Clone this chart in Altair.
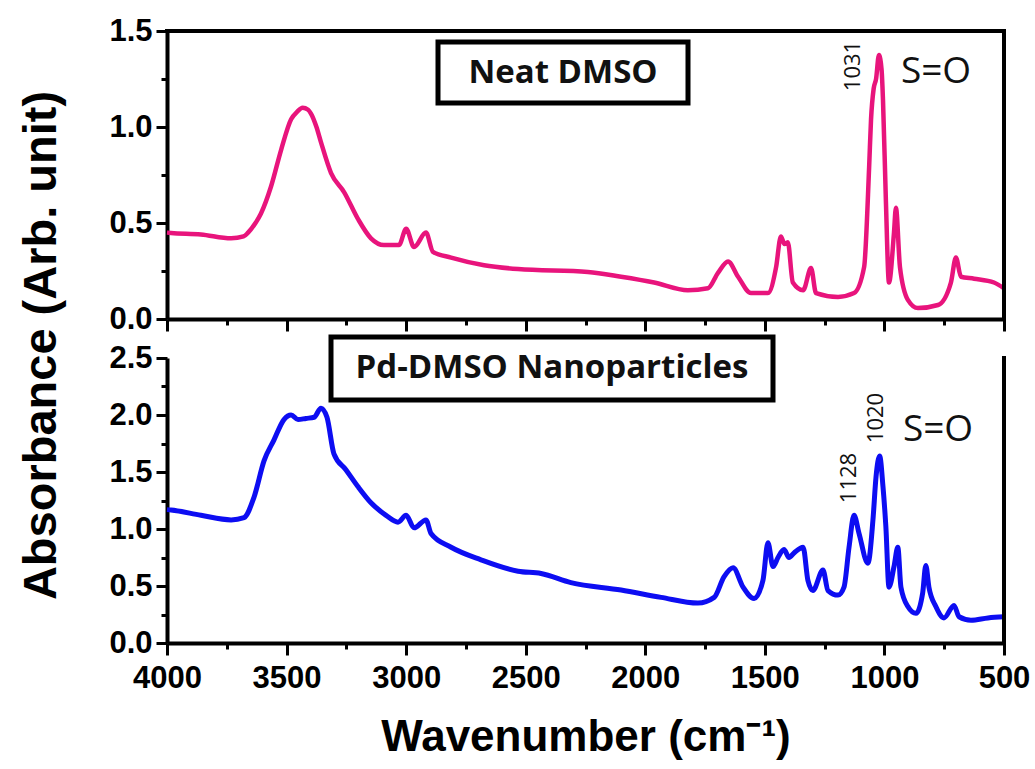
import altair as alt
import pandas as pd

# ---------------- data ----------------
neat_wn = [4000, 3983, 3858, 3732, 3680, 3661, 3630, 3607, 3565, 3523, 3481, 3455, 3433,
           3410, 3398, 3375, 3356, 3314, 3259, 3201, 3147, 3093, 3030, 3000, 2967, 2917,
           2888, 2812, 2674, 2532, 2240, 2101, 1963, 1822, 1738, 1696, 1654, 1612, 1558,
           1487, 1453, 1433, 1418, 1404, 1383, 1340, 1307, 1286, 1194, 1127, 1085, 1064,
           1056, 1045, 1035, 1023, 1012, 1006, 994, 981, 960, 952, 935, 902, 860, 776,
           722, 701, 680, 625, 542, 500]
neat_abs = [0.45, 0.448, 0.44, 0.42, 0.43, 0.45, 0.50, 0.55, 0.69, 0.88, 1.04, 1.08, 1.10,
            1.09, 1.07, 1.00, 0.92, 0.76, 0.66, 0.52, 0.42, 0.385, 0.385, 0.47, 0.375, 0.45,
            0.35, 0.32, 0.28, 0.26, 0.245, 0.22, 0.19, 0.15, 0.16, 0.24, 0.30, 0.22, 0.135,
            0.135, 0.27, 0.43, 0.39, 0.40, 0.19, 0.15, 0.265, 0.135, 0.115, 0.135, 0.27, 0.79,
            1.04, 1.20, 1.25, 1.375, 1.30, 1.14, 0.62, 0.19, 0.45, 0.58, 0.27, 0.10, 0.057, 0.073,
            0.19, 0.32, 0.22, 0.21, 0.19, 0.16]

pd_wn = [4000, 3983, 3858, 3732, 3678, 3636, 3594, 3553, 3511, 3481, 3452, 3419,
         3385, 3356, 3331, 3302, 3252, 3201, 3147, 3084, 3034, 3000, 2967, 2917,
         2896, 2812, 2687, 2532, 2436, 2311, 2101, 1934, 1780, 1712, 1671, 1633,
         1591, 1545, 1508, 1487, 1466, 1445, 1420, 1399, 1378, 1340, 1320, 1299,
         1257, 1236, 1194, 1169, 1148, 1127, 1106, 1069, 1048, 1035, 1020, 1006,
         994, 981, 960, 944, 931, 902, 868, 840, 827, 814, 785, 751, 709, 688,
         638, 567, 500]
pd_abs = [1.17, 1.167, 1.12, 1.08, 1.10, 1.28, 1.60, 1.78, 1.96, 2.00, 1.96, 1.97,
          1.98, 2.06, 1.98, 1.66, 1.52, 1.37, 1.23, 1.12, 1.06, 1.12, 1.01, 1.08,
          0.96, 0.84, 0.73, 0.63, 0.61, 0.53, 0.465, 0.40, 0.35, 0.40, 0.58, 0.66,
          0.49, 0.39, 0.55, 0.88, 0.67, 0.75, 0.82, 0.75, 0.79, 0.84, 0.55, 0.46,
          0.64, 0.46, 0.42, 0.49, 0.84, 1.12, 0.96, 0.70, 1.08, 1.46, 1.64, 1.37,
          1.02, 0.49, 0.67, 0.84, 0.49, 0.32, 0.26, 0.44, 0.68, 0.49, 0.32, 0.22,
          0.33, 0.23, 0.20, 0.22, 0.23]

x_ticks = list(range(500, 4001, 250))
y_ticks_top = [0, 0.25, 0.5, 0.75, 1.0, 1.25, 1.5]
y_ticks_bot = [0, 0.25, 0.5, 0.75, 1.0, 1.25, 1.5, 1.75, 2.0, 2.25, 2.5]

neat_df = pd.DataFrame({"wn": neat_wn, "a": neat_abs})
pd_df = pd.DataFrame({"wn": pd_wn, "a": pd_abs})
one = pd.DataFrame({"k": [0]})

W = 837
H1 = 288
H2 = 285
PINK = "#e8147c"
BLUE = "#0d0df2"
LBL_FONT = "Liberation Sans"
ANN_FONT = "Open Sans"

xscale = alt.Scale(domain=[4000, 500], nice=False, zero=False)


def x_axis(show_labels, title=None):
    kw = dict(
        values=x_ticks,
        labelExpr="datum.value % 500 === 0 ? datum.label : ''",
        format="d",
        tickSize={"condition": {"test": "datum.value % 500 === 0", "value": 12}, "value": 6},
        tickWidth=3,
        tickColor="black",
        domainColor="black",
        domainWidth=4,
        labelFont=LBL_FONT,
        labelFontSize=31,
        labelFontWeight="bold",
        labelColor="black",
        labelFlush=False,
        labelOverlap=False,
        labelPadding=8,
        grid=False,
        labels=show_labels,
    )
    if title:
        kw.update(title=title, titleFont=LBL_FONT, titleFontSize=44, titleFontWeight="bold",
                  titleColor="black", titlePadding=22)
    else:
        kw.update(title=None)
    return alt.Axis(**kw)


def y_axis(vals, title=None, extra=None):
    kw = dict(
        values=vals,
        labelExpr="datum.value % 0.5 === 0 ? datum.label : ''",
        format=".1f",
        tickSize={"condition": {"test": "datum.value % 0.5 === 0", "value": 11}, "value": 6},
        tickWidth=3,
        tickColor="black",
        domainColor="black",
        domainWidth=4,
        labelFont=LBL_FONT,
        labelFontSize=31,
        labelFontWeight="bold",
        labelColor="black",
        labelFlush=False,
        labelOverlap=False,
        labelPadding=4,
        grid=False,
    )
    if title:
        kw.update(title=title, titleFont=LBL_FONT, titleFontSize=47, titleFontWeight="bold",
                  titleColor="black")
        kw.update(extra or {})
    else:
        kw.update(title=None)
    return alt.Axis(**kw)


# ---------- top panel ----------
top_line = alt.Chart(neat_df).mark_line(color=PINK, strokeWidth=4.5, strokeJoin="round",
                                        interpolate="monotone").encode(
    x=alt.X("wn:Q", scale=xscale, axis=x_axis(False)),
    y=alt.Y("a:Q", scale=alt.Scale(domain=[0, 1.5], nice=False),
            axis=y_axis(y_ticks_top, "Absorbance (Arb. unit)",
                        dict(titleX=-126, titleY=314, titleAngle=270, titleAlign="center",
                             titleBaseline="middle"))),
)
top_frame_t = alt.Chart(one).mark_rule(color="black", strokeWidth=4, strokeCap="square").encode(
    x=alt.value(0), x2=alt.value(W), y=alt.value(0))
top_frame_r = alt.Chart(one).mark_rule(color="black", strokeWidth=4, strokeCap="square").encode(
    x=alt.value(W), y=alt.value(0), y2=alt.value(H1))
top_box = alt.Chart(one).mark_rect(fill="white", stroke="black", strokeWidth=5).encode(
    x=alt.value(271), x2=alt.value(521), y=alt.value(11), y2=alt.value(72))
top_box_txt = alt.Chart(one).mark_text(font=ANN_FONT, fontSize=33, fontWeight="bold",
                                       color="#111111", align="center", baseline="middle").encode(
    x=alt.value(396), y=alt.value(42), text=alt.value("Neat DMSO"))
top_peak = alt.Chart(one).mark_text(font=ANN_FONT, fontSize=22, angle=270, color="#111111",
                                    align="center", baseline="middle").encode(
    x=alt.value(686), y=alt.value(35), text=alt.value("1031"))
top_so = alt.Chart(one).mark_text(font=ANN_FONT, fontSize=37, color="#111111",
                                  align="center", baseline="middle").encode(
    x=alt.value(769), y=alt.value(41), text=alt.value("S=O"))

top = alt.layer(top_line, top_frame_t, top_frame_r, top_box, top_box_txt, top_peak, top_so).properties(
    width=W, height=H1)

# ---------- bottom panel ----------
bot_line = alt.Chart(pd_df).mark_line(color=BLUE, strokeWidth=5, strokeJoin="round",
                                      interpolate="monotone").encode(
    x=alt.X("wn:Q", scale=xscale, axis=x_axis(True, "Wavenumber (cm\u207b\u00b9)")),
    y=alt.Y("a:Q", scale=alt.Scale(domain=[0, 2.5], nice=False), axis=y_axis(y_ticks_bot)),
)
bot_frame_r = alt.Chart(one).mark_rule(color="black", strokeWidth=4, strokeCap="square").encode(
    x=alt.value(W), y=alt.value(0), y2=alt.value(H2))
bot_box = alt.Chart(one).mark_rect(fill="white", stroke="black", strokeWidth=5).encode(
    x=alt.value(164), x2=alt.value(606), y=alt.value(-21), y2=alt.value(42))
bot_box_txt = alt.Chart(one).mark_text(font=ANN_FONT, fontSize=33, fontWeight="bold",
                                       color="#111111", align="center", baseline="middle").encode(
    x=alt.value(385), y=alt.value(10), text=alt.value("Pd-DMSO Nanoparticles"))
bot_peak1 = alt.Chart(one).mark_text(font=ANN_FONT, fontSize=22, angle=270, color="#111111",
                                     align="center", baseline="middle").encode(
    x=alt.value(682), y=alt.value(120), text=alt.value("1128"))
bot_peak2 = alt.Chart(one).mark_text(font=ANN_FONT, fontSize=22, angle=270, color="#111111",
                                     align="center", baseline="middle").encode(
    x=alt.value(709), y=alt.value(60), text=alt.value("1020"))
bot_so = alt.Chart(one).mark_text(font=ANN_FONT, fontSize=37, color="#111111",
                                  align="center", baseline="middle").encode(
    x=alt.value(771), y=alt.value(72), text=alt.value("S=O"))

bot = alt.layer(bot_line, bot_frame_r, bot_box, bot_box_txt, bot_peak1, bot_peak2, bot_so).properties(
    width=W, height=H2)

chart = alt.vconcat(top, bot, spacing=39, bounds="flush").properties(
    padding={"left": 17, "top": 15, "right": 5, "bottom": 5},
    background="white",
).configure_view(stroke=None)

chart.save("out.html", embed_options={"renderer": "svg", "actions": False})
